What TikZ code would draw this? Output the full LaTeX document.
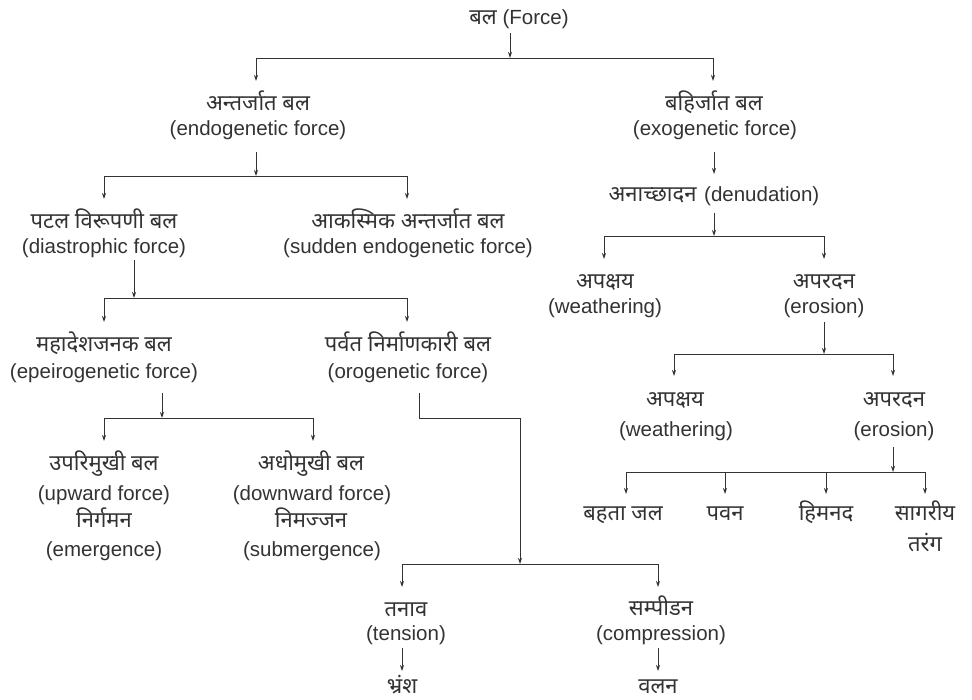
\documentclass[tikz,border=0pt]{standalone}
\usepackage{fontspec}
\setmainfont{Liberation Sans}
\newfontfamily\deva[Script=Devanagari]{Noto Sans}
\usetikzlibrary{arrows.meta}
\definecolor{ink}{HTML}{333333}
\begin{document}
\begin{tikzpicture}[x=1pt,y=-1pt,
  en/.style={font=\fontsize{20.5}{24}\selectfont, text=ink, anchor=base, inner sep=0pt},
  dv/.style={font=\fontsize{22}{26}\deva, text=ink, anchor=base, inner sep=0pt},
  mix/.style={font=\fontsize{20.5}{24}\selectfont, text=ink, anchor=base, inner sep=0pt},
  ln/.style={line width=0.9pt, draw=ink},
  arr/.style={ln, -{Stealth[length=6pt,width=4pt]}}]
\useasboundingbox[fill=white] (0,0) rectangle (972,700);

% ---------- text nodes ----------
\node[mix] (force) at (519,25) {{\fontsize{22}{26}\deva बल} (Force)};
\node[dv] (endoD) at (258,111) {अन्तर्जात बल};
\node[en] (endoE) at (258,135.5) {(endogenetic force)};
\node[dv] (exoD) at (714,111) {बहिर्जात बल};
\node[en] (exoE) at (715,135.5) {(exogenetic force)};
\node[mix] (denu) at (714,201.5) {{\fontsize{22}{26}\deva अनाच्छादन}\hspace{2pt} (denudation)};
\node[dv] (diaD) at (104,229) {पटल विरूपणी बल};
\node[en] (diaE) at (104,253.5) {(diastrophic force)};
\node[dv] (sudD) at (408,229) {आकस्मिक अन्तर्जात बल};
\node[en] (sudE) at (408,253.5) {(sudden endogenetic force)};
\node[dv] (weaD) at (605,289) {अपक्षय};
\node[en] (weaE) at (605,313.5) {(weathering)};
\node[dv] (eroD) at (824,289) {अपरदन};
\node[en] (eroE) at (824,313.5) {(erosion)};
\node[dv] (epeD) at (104,352) {महादेशजनक बल};
\node[en] (epeE) at (104,378.5) {(epeirogenetic force)};
\node[dv] (oroD) at (408,352) {पर्वत निर्माणकारी बल};
\node[en] (oroE) at (408,378.5) {(orogenetic force)};
\node[dv] (weaBD) at (675,407) {अपक्षय};
\node[en] (weaBE) at (676,436.5) {(weathering)};
\node[dv] (eroBD) at (894,407) {अपरदन};
\node[en] (eroBE) at (894,436.5) {(erosion)};
\node[dv] (upD) at (104,471) {उपरिमुखी बल};
\node[en] (upE) at (104,500.5) {(upward force)};
\node[dv] (emD) at (104,527) {निर्गमन};
\node[en] (emE) at (104,556.5) {(emergence)};
\node[dv] (downD) at (311,471) {अधोमुखी बल};
\node[en] (downE) at (312,500.5) {(downward force)};
\node[dv] (subD) at (311,527) {निमज्जन};
\node[en] (subE) at (312,556.5) {(submergence)};
\node[dv] (flow) at (623,520) {बहता जल};
\node[dv] (wind) at (725,520) {पवन};
\node[dv] (glac) at (826,520) {हिमनद};
\node[dv] (seaA) at (925,520) {सागरीय};
\node[dv] (seaB) at (925,551) {तरंग};
\node[dv] (tenD) at (406,616) {तनाव};
\node[en] (tenE) at (406,640.5) {(tension)};
\node[dv] (fault) at (402,693) {भ्रंश};
\node[dv] (comD) at (661,615) {सम्पीडन};
\node[en] (comE) at (661,640.5) {(compression)};
\node[dv] (fold) at (658,693) {वलन};

% ---------- connector points ----------
\coordinate (s0) at (510,33);  \coordinate (j0) at (510,58);
\coordinate (j0L) at (256,58); \coordinate (t0L) at (256,81);
\coordinate (j0R) at (713,58); \coordinate (t0R) at (713,81);

\coordinate (s1) at (256,152); \coordinate (j1) at (256,176);
\coordinate (j1L) at (104,176); \coordinate (t1L) at (104,199);
\coordinate (j1R) at (407,176); \coordinate (t1R) at (407,199);

\coordinate (s2) at (714,152); \coordinate (t2) at (714,174);

\coordinate (s3) at (714,213); \coordinate (j3) at (714,236);
\coordinate (j3L) at (604,236); \coordinate (t3L) at (604,259);
\coordinate (j3R) at (824,236); \coordinate (t3R) at (824,259);

\coordinate (s4) at (824,322); \coordinate (j4) at (824,354);
\coordinate (j4L) at (674,354); \coordinate (t4L) at (674,376);
\coordinate (j4R) at (893,354); \coordinate (t4R) at (893,376);

\coordinate (s5) at (893,447); \coordinate (j5) at (893,472);
\coordinate (j5A) at (626,472); \coordinate (t5A) at (626,494);
\coordinate (j5B) at (725,472); \coordinate (t5B) at (725,494);
\coordinate (j5C) at (826,472); \coordinate (t5C) at (826,494);
\coordinate (j5D) at (925,472); \coordinate (t5D) at (925,494);

\coordinate (s6) at (134,260); \coordinate (j6) at (134,298);
\coordinate (j6L) at (104,298); \coordinate (t6L) at (104,322);
\coordinate (j6R) at (407,298); \coordinate (t6R) at (407,322);

\coordinate (s7) at (162,393); \coordinate (j7) at (162,418);
\coordinate (j7L) at (104,418); \coordinate (t7L) at (104,441);
\coordinate (j7R) at (313,418); \coordinate (t7R) at (313,441);

\coordinate (s8) at (419,393); \coordinate (k8) at (520,418); \coordinate (j8) at (520,564);
\coordinate (j8L) at (402,564); \coordinate (t8L) at (402,587);
\coordinate (j8R) at (658,564); \coordinate (t8R) at (658,587);

\coordinate (s9) at (402,648); \coordinate (t9) at (402,671);
\coordinate (s10) at (658,648); \coordinate (t10) at (658,671);

% ---------- connectors ----------
\draw[arr] (s0) -- (j0);
\draw[ln] (j0L) -- (j0R);
\draw[arr] (j0L) -- (t0L);
\draw[arr] (j0R) -- (t0R);

\draw[arr] (s1) -- (j1);
\draw[ln] (j1L) -- (j1R);
\draw[arr] (j1L) -- (t1L);
\draw[arr] (j1R) -- (t1R);

\draw[arr] (s2) -- (t2);

\draw[arr] (s3) -- (j3);
\draw[ln] (j3L) -- (j3R);
\draw[arr] (j3L) -- (t3L);
\draw[arr] (j3R) -- (t3R);

\draw[arr] (s4) -- (j4);
\draw[ln] (j4L) -- (j4R);
\draw[arr] (j4L) -- (t4L);
\draw[arr] (j4R) -- (t4R);

\draw[arr] (s5) -- (j5);
\draw[ln] (j5A) -- (j5D);
\draw[arr] (j5A) -- (t5A);
\draw[arr] (j5B) -- (t5B);
\draw[arr] (j5C) -- (t5C);
\draw[arr] (j5D) -- (t5D);

\draw[arr] (s6) -- (j6);
\draw[ln] (j6L) -- (j6R);
\draw[arr] (j6L) -- (t6L);
\draw[arr] (j6R) -- (t6R);

\draw[arr] (s7) -- (j7);
\draw[ln] (j7L) -- (j7R);
\draw[arr] (j7L) -- (t7L);
\draw[arr] (j7R) -- (t7R);

\draw[arr] (s8) |- (k8) -- (j8);
\draw[ln] (j8L) -- (j8R);
\draw[arr] (j8L) -- (t8L);
\draw[arr] (j8R) -- (t8R);

\draw[arr] (s9) -- (t9);
\draw[arr] (s10) -- (t10);
\end{tikzpicture}
\end{document}
